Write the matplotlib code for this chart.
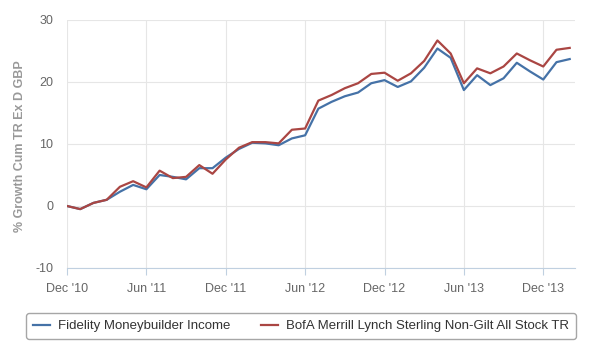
import matplotlib.pyplot as plt
import numpy as np

plt.rcParams['font.family'] = ['Liberation Sans', 'DejaVu Sans']
plt.rcParams['axes.unicode_minus'] = False

# Monthly points, Dec 2010 .. Feb 2014
months = np.arange(39)
tick_pos = [0, 6, 12, 18, 24, 30, 36]
tick_labels = ["Dec '10", "Jun '11", "Dec '11", "Jun '12", "Dec '12", "Jun '13", "Dec '13"]

fidelity = [0.0, -0.5, 0.5, 1.0, 2.3, 3.4, 2.7, 5.0, 4.7, 4.3, 6.1, 6.1, 7.8,
            9.2, 10.2, 10.1, 9.8, 10.9, 11.4, 15.7, 16.8, 17.7, 18.3, 19.8, 20.3,
            19.2, 20.1, 22.3, 25.4, 23.9, 18.7, 21.1, 19.5, 20.6, 23.1, 21.7, 20.4,
            23.2, 23.7]
bofa = [0.0, -0.5, 0.5, 1.0, 3.1, 4.0, 3.0, 5.7, 4.5, 4.7, 6.6, 5.2, 7.5,
        9.4, 10.3, 10.3, 10.1, 12.3, 12.5, 17.0, 17.9, 19.0, 19.8, 21.3, 21.5,
        20.2, 21.4, 23.4, 26.7, 24.6, 19.8, 22.2, 21.4, 22.5, 24.6, 23.5, 22.5,
        25.2, 25.5]

fig = plt.figure(figsize=(6, 3.5), dpi=100)
ax = fig.add_axes([67 / 600, 1 - 268 / 350, (575 - 67) / 600, (268 - 20) / 350])

ax.plot(months, fidelity, color='#4572A7', lw=1.6, label='Fidelity Moneybuilder Income')
ax.plot(months, bofa, color='#AA4643', lw=1.6,
        label='BofA Merrill Lynch Sterling Non-Gilt All Stock TR')

ax.set_xlim(0, 38.4)
ax.set_ylim(-10, 30)
ax.set_yticks([-10, 0, 10, 20, 30])
ax.set_xticks(tick_pos)
ax.set_xticklabels(tick_labels)
ax.grid(True, color='#E6E6E6', lw=0.8)
ax.set_axisbelow(True)

for s in ['top', 'right', 'left']:
    ax.spines[s].set_visible(False)
ax.spines['bottom'].set_color('#C0D0E0')
ax.tick_params(axis='y', length=0, pad=10, labelsize=9, labelcolor='#666666')
ax.tick_params(axis='x', length=5, color='#C0D0E0', pad=6, labelsize=9, labelcolor='#666666')

fig.text(20 / 600, 1 - 146 / 350, '% Growth Cum TR Ex D GBP', rotation=90,
         ha='center', va='center', fontsize=9, fontweight='bold', color='#999999')

leg = fig.legend(loc='center', bbox_to_anchor=(301 / 600, 1 - 326 / 350), ncol=2,
                 frameon=True, fancybox=True, fontsize=9.5, handlelength=1.3,
                 columnspacing=2.3, handletextpad=0.6, borderpad=0.5)
leg.get_frame().set_edgecolor('#909090')
leg.get_frame().set_linewidth(1.0)
for t in leg.get_texts():
    t.set_color('#333333')

fig.savefig('out.png', dpi=100)
